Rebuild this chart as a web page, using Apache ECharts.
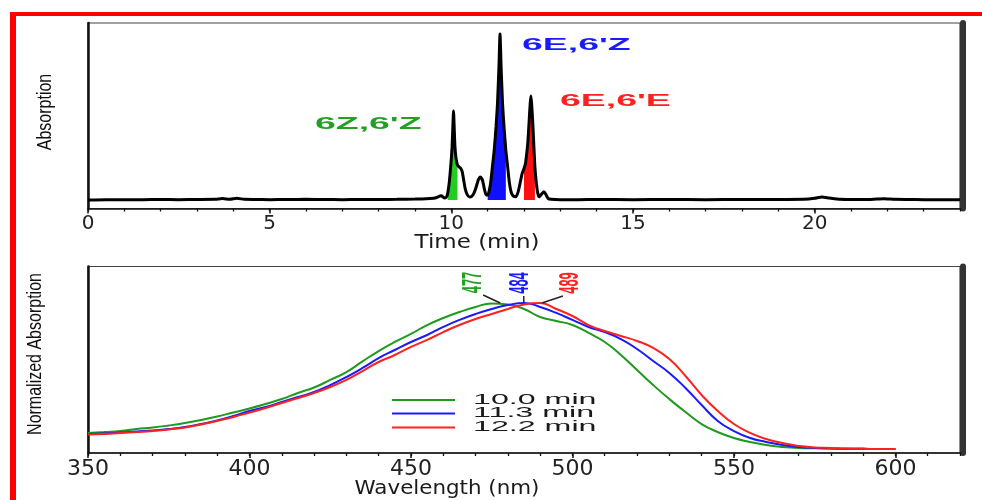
<!DOCTYPE html>
<html>
<head>
<meta charset="utf-8">
<script src="https://cdn.jsdelivr.net/npm/echarts@6/dist/echarts.min.js"></script>
<style>
html,body{margin:0;padding:0;background:#fff;}
#c{width:982px;height:500px;}
</style>
</head>
<body>
<div id="c"></div>
<script>
// ---------------- DATA ----------------
// HPLC chromatogram: [retention time (min), absorption (rel. to tallest peak)]
const chromatogram = [
  [0,0],[0.5,0.002],[1,0.001],[1.5,0.002],[2,0.003],[2.5,0.002],[3,0.003],[3.5,0.004],
  [3.7,0.009],[3.9,0.004],[4.1,0.01],[4.3,0.004],[4.6,0.003],[5,0.002],[5.5,0.003],[6,0.004],
  [6.5,0.003],[7,0.002],[7.5,0.003],[8,0.003],[8.5,0.004],[9,0.006],[9.3,0.008],[9.55,0.012],
  [9.72,0.025],[9.82,0.012],[9.87,0.02],[9.9,0.04],[9.94,0.1],[9.97,0.17],[10.0,0.25],[10.02,0.32],
  [10.04,0.43],[10.06,0.536],[10.08,0.43],[10.1,0.32],[10.13,0.25],[10.17,0.21],[10.21,0.2],
  [10.26,0.19],[10.3,0.17],[10.34,0.12],[10.38,0.07],[10.43,0.035],[10.5,0.018],[10.56,0.022],
  [10.62,0.04],[10.68,0.075],[10.74,0.12],[10.8,0.139],[10.86,0.118],[10.91,0.065],[10.96,0.03],
  [11.0,0.03],[11.03,0.045],[11.08,0.1],[11.13,0.2],[11.18,0.3],[11.23,0.44],[11.27,0.58],
  [11.31,0.8],[11.34,1.0],[11.37,0.8],[11.41,0.58],[11.45,0.44],[11.5,0.3],[11.55,0.2],[11.6,0.1],
  [11.65,0.045],[11.7,0.025],[11.78,0.02],[11.84,0.05],[11.9,0.11],[11.95,0.16],[12.0,0.19],
  [12.04,0.22],[12.08,0.29],[12.11,0.36],[12.14,0.47],[12.17,0.58],[12.19,0.627],[12.21,0.58],
  [12.24,0.47],[12.27,0.33],[12.3,0.2],[12.34,0.1],[12.38,0.04],[12.42,0.02],[12.5,0.04],
  [12.55,0.05],[12.6,0.035],[12.66,0.01],[12.75,0.004],[13,0.002],[13.5,0.002],[14,0.003],
  [15,0.002],[16,0.003],[17,0.002],[18,0.003],[19,0.003],[19.7,0.004],[20,0.01],[20.2,0.018],
  [20.4,0.012],[20.7,0.004],[21,0.003],[21.5,0.003],[21.9,0.008],[22.2,0.004],[22.6,0.003],
  [23,0.002],[23.5,0.002],[24,0.002]
];
// integration windows (min) of the three isomer peaks
const peakWindows = [[9.9, 10.2], [10.98, 11.52], [11.98, 12.31]];
const isomerNames = ["6Z,6'Z", "6E,6'Z", "6E,6'E"];
const retentionTimes = [10.0, 11.3, 12.2];
const peakMaxima = [477, 484, 489];

// UV-Vis spectra
const wavelengths = [350,355,360,365,370,375,380,385,390,395,400,405,410,415,420,425,430,435,440,445,
  450,455,460,465,470,475,480,485,490,495,500,505,510,515,520,525,530,535,540,545,550,555,560,565,570,
  575,580,585,590,595,600];
const spec10_0 = [0.110,0.116,0.123,0.137,0.147,0.161,0.178,0.199,0.223,0.250,0.277,0.308,0.342,0.384,
  0.421,0.473,0.527,0.600,0.671,0.733,0.788,0.849,0.897,0.938,0.973,0.997,0.990,0.959,0.904,0.877,0.849,
  0.795,0.733,0.644,0.541,0.438,0.342,0.253,0.171,0.116,0.075,0.048,0.027,0.014,0.007,0.005,0.003,0.002,
  0.001,0,0];
const spec11_3 = [0.103,0.106,0.113,0.120,0.127,0.137,0.151,0.171,0.195,0.226,0.260,0.288,0.322,0.356,
  0.390,0.438,0.493,0.555,0.623,0.678,0.733,0.781,0.836,0.884,0.925,0.959,0.986,1.000,0.973,0.932,0.884,
  0.836,0.801,0.753,0.685,0.603,0.521,0.418,0.301,0.192,0.123,0.075,0.048,0.027,0.014,0.007,0.003,0.002,
  0.001,0,0];
const spec12_2 = [0.099,0.103,0.110,0.116,0.123,0.134,0.147,0.168,0.192,0.219,0.250,0.281,0.315,0.349,
  0.384,0.425,0.473,0.534,0.596,0.644,0.699,0.747,0.801,0.849,0.890,0.925,0.959,0.990,1.000,0.959,0.911,
  0.849,0.808,0.774,0.740,0.692,0.616,0.500,0.370,0.260,0.171,0.110,0.068,0.041,0.021,0.010,0.007,0.003,
  0.001,0,0];
const spectra = [spec10_0, spec11_3, spec12_2];

// ---------------- STYLE ----------------
const LINE_COLORS = ['#1e9a1e', '#1a1aff', '#ff2020'];
const FILL_COLORS = ['#22cc22', '#1010ff', '#ff1010'];
const LABEL_COLORS = ['#22a022', '#1a1aff', '#ff2020'];
const TICK_FONT = 'DejaVu Sans';
const TXT = '#1a1a1a';

const chart = echarts.init(document.getElementById('c'));

function mainX(gi, min, max, interval, fs) {
  return {
    type: 'value', gridIndex: gi, min: min, max: max, interval: interval, position: 'bottom',
    axisLine: { show: true, onZero: false, lineStyle: { color: '#111', width: 1.5 } },
    axisTick: { show: true, length: 5, lineStyle: { color: '#111', width: 1.5 } },
    axisLabel: { show: true, margin: 5, color: '#222', fontFamily: TICK_FONT, fontSize: fs, showMaxLabel: false },
    splitLine: { show: false }
  };
}
function minorX(gi, min, max, interval) {
  return {
    type: 'value', gridIndex: gi, min: min, max: max, interval: interval, position: 'bottom',
    axisLine: { show: false, onZero: false },
    axisTick: { show: true, length: 3, lineStyle: { color: '#111', width: 1.3 } },
    axisLabel: { show: false }, splitLine: { show: false }
  };
}
function leftY(gi, min, max) {
  return {
    type: 'value', gridIndex: gi, min: min, max: max, position: 'left',
    axisLine: { show: true, onZero: false, lineStyle: { color: '#111', width: 2.5 } },
    axisTick: { show: false }, axisLabel: { show: false }, splitLine: { show: false }
  };
}
function rightY(gi, min, max) {
  return {
    type: 'value', gridIndex: gi, min: min, max: max, position: 'right', offset: 3,
    axisLine: { show: true, onZero: false, lineStyle: { color: '#333', width: 6 } },
    axisTick: { show: false }, axisLabel: { show: false }, splitLine: { show: false }
  };
}

const series = [];
peakWindows.forEach(function (w, i) {
  series.push({
    type: 'line', name: isomerNames[i], xAxisIndex: 0, yAxisIndex: 0,
    data: chromatogram.filter(function (p) { return p[0] >= w[0] && p[0] <= w[1]; }),
    symbol: 'none', smooth: 0.2, lineStyle: { width: 0 },
    areaStyle: { color: FILL_COLORS[i], opacity: 1 }, z: 2, silent: true
  });
});
series.push({
  type: 'line', name: 'chromatogram', xAxisIndex: 0, yAxisIndex: 0, data: chromatogram,
  symbol: 'none', smooth: 0.2, lineStyle: { color: '#000', width: 3 }, z: 3
});
spectra.forEach(function (s, i) {
  series.push({
    type: 'line', name: retentionTimes[i].toFixed(1) + ' min', xAxisIndex: 2, yAxisIndex: 2,
    data: wavelengths.map(function (x, k) { return [x, s[k]]; }),
    symbol: 'none', smooth: true, lineStyle: { color: LINE_COLORS[i], width: 2 }, z: 3
  });
});

const option = {
  animation: false,
  backgroundColor: '#fff',
  grid: [
    { left: 88, right: 22, top: 23, height: 185.5, show: true, borderColor: '#444', borderWidth: 1.2 },
    { left: 88, right: 22, top: 266.5, height: 186.5, show: true, borderColor: '#444', borderWidth: 1.2 }
  ],
  xAxis: [mainX(0, 0, 24, 5, 20), minorX(0, 0, 24, 1), mainX(1, 350, 620, 50, 22), minorX(1, 350, 620, 10)],
  yAxis: [leftY(0, -0.0512, 1.0663), rightY(0, -0.0512, 1.0663), leftY(1, -0.0274, 1.25), rightY(1, -0.0274, 1.25)],
  series: series
};
chart.setOption(option);

// ---------------- ANNOTATIONS ----------------
function text(str, x, y, o) {
  return {
    type: 'text', x: x, y: y, rotation: o.rot || 0, scaleX: o.sx || 1, scaleY: o.sy || 1, z: 100,
    style: {
      text: str, fill: o.fill || TXT, font: o.font,
      align: o.align || 'center', verticalAlign: 'middle',
      textAlign: o.align || 'center', textVerticalAlign: 'middle'
    }
  };
}
function seg(x1, y1, x2, y2, color, w) {
  return { type: 'line', z: 100, shape: { x1: x1, y1: y1, x2: x2, y2: y2 }, style: { stroke: color, lineWidth: w } };
}
const g = [];
// red frame
g.push({ type: 'rect', z: 100, shape: { x: 10, y: 12, width: 972, height: 4 }, style: { fill: '#ff0000' } });
g.push({ type: 'rect', z: 100, shape: { x: 10, y: 12, width: 6, height: 488 }, style: { fill: '#ff0000' } });
// axis titles
g.push(text('Absorption', 45, 112, { rot: Math.PI / 2, sx: 0.8, fill: '#111', font: '20px "Liberation Sans", Arial, sans-serif' }));
g.push(text('Normalized Absorption', 35, 354, { rot: Math.PI / 2, sx: 0.8, fill: '#111', font: '20px "Liberation Sans", Arial, sans-serif' }));
g.push(text('Time (min)', 477, 243, { sx: 1.15, font: '20px "DejaVu Sans", sans-serif' }));
g.push(text('Wavelength (nm)', 447, 489, { sx: 1.07, font: '20px "DejaVu Sans", sans-serif' }));
// isomer labels in chromatogram
const isoPos = [[315, 124], [522, 45], [560, 101]];
isomerNames.forEach(function (n, i) {
  g.push(text(n, isoPos[i][0], isoPos[i][1], { align: 'left', sx: 2.2, fill: LABEL_COLORS[i], font: 'bold 17px "Liberation Sans", Arial, sans-serif' }));
});
// absorption maxima labels with leader lines
const lblOff = [[-25, -20.5], [0, -20], [33.5, -20]];
const leadOff = [[-15, -8, 2, 0], [3, -7, 3, 0], [26, -7, 5, 0]];
peakMaxima.forEach(function (wl, i) {
  const p = chart.convertToPixel({ xAxisIndex: 2, yAxisIndex: 2 }, [wl, 1]);
  g.push(seg(p[0] + leadOff[i][0], p[1] + leadOff[i][1], p[0] + leadOff[i][2], p[1] + leadOff[i][3], '#222', 1.5));
  g.push(text(String(wl), p[0] + lblOff[i][0], p[1] + lblOff[i][1], { rot: Math.PI / 2, sx: 0.46, fill: LABEL_COLORS[i], font: 'bold 28px "Liberation Sans", Arial, sans-serif' }));
});
// legend
const legY = [400, 413.5, 427.5];
retentionTimes.forEach(function (t, i) {
  g.push(seg(392, legY[i], 455, legY[i], LINE_COLORS[i], 2));
  g.push(text(t.toFixed(1) + ' min', 473, legY[i], { align: 'left', sx: 2.3, font: '14px "Liberation Sans", Arial, sans-serif' }));
});
chart.setOption({ graphic: g });
</script>
</body>
</html>
